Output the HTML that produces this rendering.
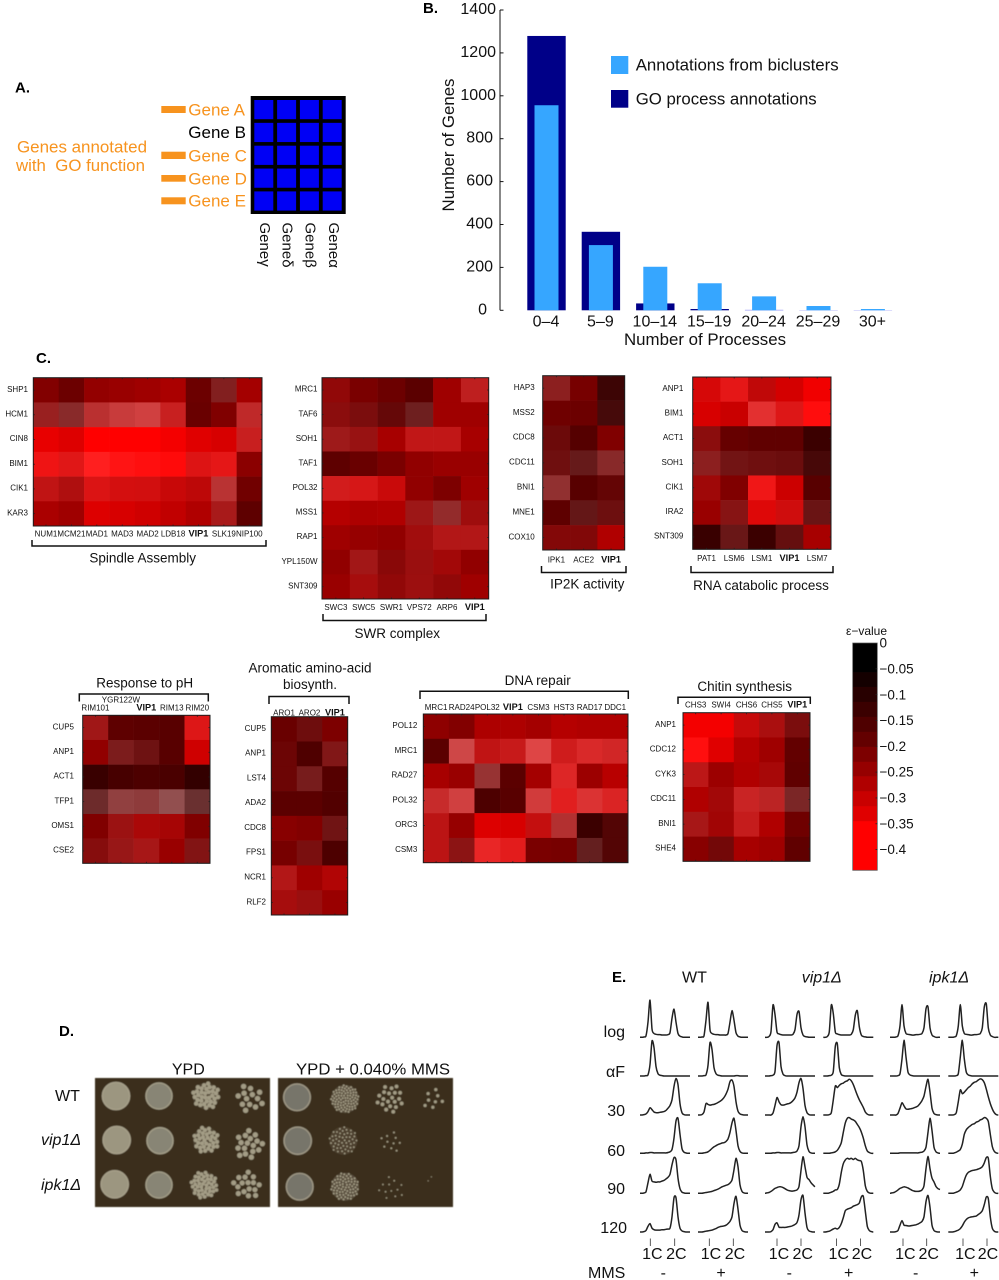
<!DOCTYPE html>
<html lang="en">
<head>
<meta charset="utf-8">
<title>Biclustering annotation figure</title>
<style>
html,body{margin:0;padding:0;background:#fff;}
svg{display:block;font-family:"Liberation Sans","DejaVu Sans",sans-serif;filter:blur(.3px);}
.panel-letter{font-weight:bold;font-size:15px;fill:#000;}
.gene-orange{font-size:17px;fill:#f7931e;}
.title13{font-size:13.5px;fill:#111;text-anchor:middle;}
.t16{font-size:16px;fill:#111;}
.i16{font-size:16px;font-style:italic;fill:#111;}
.mid{text-anchor:middle;}
.end{text-anchor:end;}
.bracket{fill:none;stroke:#111;stroke-width:1.5;}
</style>
</head>
<body>
<svg id="fig" width="999" height="1280" viewBox="0 0 999 1280" xmlns="http://www.w3.org/2000/svg">
<defs><filter id="soft" x="-5%" y="-5%" width="110%" height="110%"><feGaussianBlur stdDeviation="0.45"/></filter></defs>
<rect width="999" height="1280" fill="#fff"/>

<!-- Panel A -->
<g id="panelA">
<text class="panel-letter" x="15" y="92.5">A.</text>
<rect x="250.7" y="96" width="95" height="118" fill="#000"/>
<rect x="161.3" y="106" width="24.4" height="7" fill="#f7931e"/>
<rect x="161.3" y="151.7" width="24.4" height="7.3" fill="#f7931e"/>
<rect x="161.3" y="175" width="24.4" height="6.7" fill="#f7931e"/>
<rect x="161.3" y="197.3" width="24.4" height="7" fill="#f7931e"/>
<text class="gene-orange" x="188.3" y="115.7">Gene A</text>
<text class="gene-orange" x="188.3" y="138" style="fill:#000">Gene B</text>
<text class="gene-orange" x="188.3" y="161.7">Gene C</text>
<text class="gene-orange" x="188.3" y="184.3">Gene D</text>
<text class="gene-orange" x="188.3" y="206.7">Gene E</text>
<text class="gene-orange" x="17" y="152.7" textLength="130" lengthAdjust="spacingAndGlyphs">Genes annotated</text>
<text class="gene-orange" x="16" y="171" textLength="129" lengthAdjust="spacingAndGlyphs" xml:space="preserve">with  GO function</text>
<text font-size="15" fill="#111" transform="translate(260,222.5) rotate(90)">Geneγ</text>
<text font-size="15" fill="#111" transform="translate(282.7,222.5) rotate(90)">Geneδ</text>
<text font-size="15" fill="#111" transform="translate(305.7,222.5) rotate(90)">Geneβ</text>
<text font-size="15" fill="#111" transform="translate(329,222.5) rotate(90)">Geneα</text>
</g>

<!-- Panel B -->
<g id="panelB">
<text class="panel-letter" x="423" y="13">B.</text>
<line x1="500" y1="10" x2="500" y2="310.3" stroke="#111" stroke-width="1"/>
<text font-size="17" fill="#111" text-anchor="middle" textLength="133" lengthAdjust="spacingAndGlyphs" transform="translate(454,145) rotate(-90)">Number of Genes</text>
<text font-size="17" fill="#111" text-anchor="middle" x="705" y="345" textLength="162" lengthAdjust="spacingAndGlyphs">Number of Processes</text>
<rect x="611" y="56" width="17.3" height="18" fill="#36a6ff"/>
<rect x="611" y="90" width="17.3" height="17.7" fill="#000088"/>
<text font-size="17" fill="#111" x="635.7" y="70.7" textLength="203" lengthAdjust="spacingAndGlyphs">Annotations from biclusters</text>
<text font-size="17" fill="#111" x="635.7" y="104.3" textLength="181" lengthAdjust="spacingAndGlyphs">GO process annotations</text>
</g>

<!-- Panel C headers -->
<g id="panelC">
<text class="panel-letter" x="36" y="363">C.</text>
<path class="bracket" d="M32 540V546H266V540"/>
<text class="title13" x="142.7" y="562.7">Spindle Assembly</text>
<path class="bracket" d="M323 614V620.5H486V614"/>
<text class="title13" x="397.3" y="638">SWR complex</text>
<path class="bracket" d="M541.5 566V572.5H626V566"/>
<text class="title13" x="587.3" y="588.3">IP2K activity</text>
<path class="bracket" d="M691 566V572.5H833V566"/>
<text class="title13" x="761" y="590">RNA catabolic process</text>
<path class="bracket" d="M79.3 701.5V694H208.3V701.5"/>
<text class="title13" x="144.7" y="687.7">Response to pH</text>
<path class="bracket" d="M269 704V696.5H349V704"/>
<text class="title13" x="310" y="672.3">Aromatic amino-acid</text>
<text class="title13" x="310" y="689">biosynth.</text>
<path class="bracket" d="M420 699V691.3H628.3V699"/>
<text class="title13" x="537.7" y="685">DNA repair</text>
<path class="bracket" d="M678 704V697.2H810.3V704"/>
<text class="title13" x="744.7" y="691">Chitin synthesis</text>
<text font-size="12" fill="#111" text-anchor="middle" x="866.5" y="635">ε−value</text>
</g>

<!-- Panel D headers -->
<g id="panelD">
<text class="panel-letter" x="59" y="1036">D.</text>
<text class="t16 mid" x="188.3" y="1074.3">YPD</text>
<text class="t16" x="296" y="1074.3" textLength="154" lengthAdjust="spacingAndGlyphs">YPD + 0.040% MMS</text>
<text class="t16" x="55" y="1101">WT</text>
<text class="i16" x="41" y="1145">vip1Δ</text>
<text class="i16" x="41" y="1190">ipk1Δ</text>
</g>

<!-- Panel E headers -->
<g id="panelE">
<text class="panel-letter" x="612" y="982">E.</text>
<text class="t16" x="682" y="982.7">WT</text>
<text class="i16" x="801.7" y="982.7">vip1Δ</text>
<text class="i16" x="929" y="982.7">ipk1Δ</text>
<text class="t16 end" x="625" y="1037">log</text>
<text class="t16 end" x="625" y="1077">αF</text>
<text class="t16 end" x="625" y="1116">30</text>
<text class="t16 end" x="625" y="1156">60</text>
<text class="t16 end" x="625" y="1194">90</text>
<text class="t16 end" x="627" y="1233">120</text>
<text class="t16" x="588" y="1278">MMS</text>
<text class="t16 mid" x="663.3" y="1278">-</text>
<text class="t16 mid" x="721" y="1278">+</text>
<text class="t16 mid" x="789.3" y="1278">-</text>
<text class="t16 mid" x="848.7" y="1278">+</text>
<text class="t16 mid" x="915.7" y="1278">-</text>
<text class="t16 mid" x="974.3" y="1278">+</text>
</g>
</svg>

<script>
/* ---------- Panel B data ---------- */
const processBins = ["0–4","5–9","10–14","15–19","20–24","25–29","30+"];
const goAnnotationCounts = [1279,366,32,6,2,1,1];
const biclusterAnnotationCounts = [956,304,203,126,65,20,6];
const geneAxisTicks = [0,200,400,600,800,1000,1200,1400];

/* ---------- Panel A data ---------- */
const matrixRows = ["Gene A","Gene B","Gene C","Gene D","Gene E"];
const matrixColumns = ["Gene gamma","Gene delta","Gene beta","Gene alpha"];

/* ---------- Panel C data: epsilon values, and wash = paleness of each cell ---------- */
const spindleGenes = ["SHP1","HCM1","CIN8","BIM1","CIK1","KAR3"];
const spindleConditions = ["NUM1","MCM21","MAD1","MAD3","MAD2","LDB18","VIP1","SLK19","NIP100"];
const spindleValues = [
[-.23,-.19,-.26,-.27,-.28,-.30,-.19,-.20,-.29],
[-.245,-.20,-.30,-.325,-.34,-.34,-.185,-.225,-.315],
[-.41,-.39,-.45,-.45,-.45,-.43,-.395,-.38,-.34],
[-.42,-.39,-.45,-.45,-.45,-.45,-.385,-.40,-.245],
[-.33,-.30,-.38,-.37,-.365,-.35,-.33,-.295,-.20],
[-.30,-.28,-.39,-.38,-.365,-.34,-.31,-.28,-.165]];
const spindleWash = [
[0,0,0,0,0,0,0,.12,0],
[.125,.165,.19,.23,.25,.125,0,0,.16],
[0,0,0,0,0,0,0,0,.12],
[.08,.09,.12,.08,.06,.04,.08,.09,0],
[.08,.06,.08,.06,.06,.03,.03,.2,0],
[0,0,0,0,0,0,0,.1,0]];

const swrGenes = ["MRC1","TAF6","SOH1","TAF1","POL32","MSS1","RAP1","YPL150W","SNT309"];
const swrConditions = ["SWC3","SWC5","SWR1","VPS72","ARP6","VIP1"];
const swrValues = [
[-.25,-.215,-.19,-.16,-.28,-.32],
[-.235,-.205,-.17,-.16,-.28,-.28],
[-.26,-.255,-.295,-.33,-.33,-.295],
[-.165,-.185,-.215,-.255,-.27,-.27],
[-.36,-.37,-.35,-.255,-.22,-.28],
[-.32,-.305,-.31,-.26,-.22,-.27],
[-.28,-.265,-.255,-.275,-.30,-.30],
[-.255,-.27,-.235,-.26,-.28,-.255],
[-.27,-.285,-.25,-.265,-.25,-.28]];
const swrWash = [
[.03,0,0,0,0,.12],
[.05,.05,.03,.12,0,0],
[.1,.07,0,.09,.09,0],
[0,0,0,0,0,0],
[.11,.09,.04,0,0,0],
[0,0,0,.09,.17,.05],
[0,0,0,.05,.09,.09],
[0,.09,.03,.06,.03,0],
[0,.05,.03,.06,.03,0]];

const ip2kGenes = ["HAP3","MSS2","CDC8","CDC11","BNI1","MNE1","COX10"];
const ip2kConditions = ["IPK1","ACE2","VIP1"];
const ip2kValues = [
[-.22,-.21,-.10],
[-.195,-.19,-.11],
[-.18,-.15,-.225],
[-.18,-.15,-.20],
[-.21,-.155,-.17],
[-.165,-.15,-.175],
[-.225,-.22,-.31]];
const ip2kWash = [
[.12,0,.02],
[0,0,.04],
[.04,0,0],
[.06,.1,.16],
[.19,0,.02],
[0,.09,.06],
[.03,.03,0]];

const rnaGenes = ["ANP1","BIM1","ACT1","SOH1","CIK1","IRA2","SNT309"];
const rnaConditions = ["PAT1","LSM6","LSM1","VIP1","LSM7"];
const rnaValues = [
[-.375,-.40,-.335,-.375,-.425],
[-.38,-.355,-.39,-.385,-.45],
[-.235,-.18,-.17,-.17,-.105],
[-.22,-.18,-.18,-.175,-.115],
[-.275,-.225,-.42,-.36,-.155],
[-.27,-.22,-.39,-.36,-.165],
[-.10,-.16,-.105,-.16,-.295]];
const rnaWash = [
[.03,.09,.03,0,0],
[0,0,.19,.09,.05],
[.05,0,0,0,0],
[.12,.08,.06,.05,.03],
[.03,0,.09,0,0],
[0,.08,.03,.05,.08],
[0,.09,0,.06,0]];

const phGenes = ["CUP5","ANP1","ACT1","TFP1","OMS1","CSE2"];
const phConditions = ["RIM101","YGR122W","VIP1","RIM13","RIM20"];
const phValues = [
[-.265,-.165,-.16,-.155,-.385],
[-.255,-.19,-.175,-.155,-.365],
[-.10,-.125,-.135,-.13,-.09],
[-.14,-.19,-.19,-.17,-.125],
[-.225,-.26,-.295,-.29,-.225],
[-.225,-.25,-.28,-.27,-.21]];
const phWash = [
[.09,0,0,0,.09],
[0,.11,.07,0,0],
[0,0,0,0,0],
[.17,.25,.23,.31,.19],
[0,.07,.03,.02,0],
[.05,.09,.09,0,.08]];

const aromaticGenes = ["CUP5","ANP1","LST4","ADA2","CDC8","FPS1","NCR1","RLF2"];
const aromaticConditions = ["ARO1","ARO2","VIP1"];
const aromaticValues = [
[-.185,-.18,-.22],
[-.185,-.14,-.205],
[-.185,-.18,-.15],
[-.16,-.16,-.145],
[-.24,-.23,-.175],
[-.21,-.20,-.135],
[-.30,-.28,-.31],
[-.285,-.26,-.27]];
const aromaticWash = [
[0,.05,0],
[.02,0,.09],
[.02,.11,0],
[0,0,0],
[0,0,.08],
[0,.06,0],
[.09,0,.02],
[.05,.06,0]];

const dnaGenes = ["POL12","MRC1","RAD27","POL32","ORC3","CSM3"];
const dnaConditions = ["MRC1","RAD24","POL32","VIP1","CSM3","HST3","RAD17","DDC1"];
const dnaValues = [
[-.25,-.23,-.305,-.305,-.29,-.32,-.31,-.31],
[-.16,-.33,-.33,-.34,-.37,-.355,-.37,-.355],
[-.295,-.27,-.22,-.16,-.29,-.38,-.275,-.325],
[-.33,-.34,-.135,-.155,-.345,-.39,-.37,-.375],
[-.32,-.265,-.39,-.38,-.34,-.285,-.105,-.14],
[-.32,-.23,-.405,-.395,-.215,-.21,-.14,-.14]];
const dnaWash = [
[0,0,0,0,0,0,0,0],
[0,.28,.08,.1,.27,.11,.16,.15],
[0,0,.2,0,0,.15,0,0],
[.17,.25,0,0,.23,.12,.2,.14],
[.08,0,0,0,.06,.19,0,.02],
[.08,.08,.15,.11,0,0,.12,.02]];

const chitinGenes = ["ANP1","CDC12","CYK3","CDC11","BNI1","SHE4"];
const chitinConditions = ["CHS3","SWI4","CHS6","CHS5","VIP1"];
const chitinValues = [
[-.43,-.43,-.345,-.29,-.205],
[-.45,-.395,-.32,-.28,-.175],
[-.32,-.275,-.31,-.29,-.17],
[-.31,-.28,-.34,-.31,-.175],
[-.28,-.28,-.335,-.31,-.195],
[-.24,-.195,-.295,-.28,-.17]];
const chitinWash = [
[0,0,.04,.06,.05],
[.06,0,0,0,0],
[.09,0,0,.03,0],
[0,.03,.14,.14,.15],
[.09,.02,.11,0,0],
[0,.03,0,0,0]];

/* ---------- Colorbar data ---------- */
const colorbarTickValues = [0,-.05,-.1,-.15,-.2,-.25,-.3,-.35,-.4];
const colorbarTickLabels = ["0","−0.05","−0.1","−0.15","−0.2","−0.25","−0.3","−0.35","−0.4"];
const colorbarBandEdges = [0,-.0565,-.085,-.114,-.143,-.172,-.201,-.23,-.258,-.287,-.316,-.345,-.44];
const colorbarBandLevels = [0,-.035,-.07,-.105,-.14,-.175,-.22,-.265,-.31,-.355,-.395,-.45];

/* ---------- Panel E data: relative DNA histogram heights, 26 bins ---------- */
const flowLog = [
[0,0,1,4,40,98,22,10,8,7,7,6,6,6,7,12,50,74,40,10,3,1,0,0,0,0],
[0,0,1,4,45,92,20,10,8,7,7,6,6,6,6,10,40,70,45,12,3,1,0,0,0,0],
[0,0,2,15,85,60,14,9,7,6,6,6,6,6,8,20,60,68,25,6,2,1,0,0,0,0],
[0,0,2,15,85,62,14,9,7,6,6,6,6,6,8,20,58,70,28,6,2,1,0,0,0,0],
[0,0,0,1,4,30,86,30,10,8,7,6,6,7,7,8,10,25,75,80,25,6,2,0,0,0],
[0,0,0,1,4,30,86,30,10,8,7,6,6,7,7,8,10,25,80,88,25,6,2,0,0,0]];
const flowAlphaFactor = [
[0,0,0,1,3,30,92,75,25,6,2,1,0,0,0,0,0,0,0,0,0,0,0,0,0,0],
[0,0,0,1,3,28,88,70,22,6,2,1,0,0,0,0,0,0,0,1,1,0,0,0,0,0],
[0,0,0,1,2,12,80,88,25,5,1,0,0,0,0,0,0,0,0,0,0,0,0,0,0,0],
[0,0,0,1,2,12,78,85,22,4,1,0,0,0,0,0,0,0,0,0,0,0,0,0,0,0],
[0,0,0,0,1,6,45,94,50,10,3,1,0,0,0,0,0,0,0,0,0,0,0,0,0,0],
[0,0,0,0,1,6,50,94,45,10,3,1,0,0,0,0,0,0,0,0,0,0,0,0,0,0]];
const flow30 = [
[0,0,1,3,9,19,14,8,6,6,7,8,9,12,18,25,40,75,96,80,30,6,1,0,0,0],
[0,0,1,8,30,28,26,27,28,30,33,36,40,46,55,68,88,92,75,35,10,3,1,0,0,0],
[0,0,0,0,5,25,46,35,27,26,27,29,30,33,38,45,60,85,96,70,25,6,1,0,0,0],
[0,0,0,1,6,40,76,72,78,82,84,88,90,94,90,80,66,52,40,30,20,8,2,0,0,0],
[0,0,0,0,4,18,32,24,16,15,16,17,19,21,24,30,38,50,75,94,60,18,4,1,0,0],
[0,0,0,1,6,35,66,56,60,66,72,76,82,86,88,92,95,93,85,68,48,30,16,6,1,0]];
const flow60 = [
[0,0,0,1,1,2,2,1,1,1,1,1,1,1,2,4,10,40,85,92,50,12,3,1,0,0],
[0,0,0,1,2,4,8,13,17,20,23,25,27,28,31,38,55,80,92,60,20,5,1,0,0,0],
[0,0,0,0,1,1,2,2,1,1,1,1,1,1,2,3,6,20,70,96,70,22,5,1,0,0],
[0,0,0,0,1,2,4,8,16,28,55,80,92,94,90,88,84,76,68,56,40,20,6,2,0,0],
[0,0,0,0,0,1,1,1,1,1,1,1,1,1,1,2,3,6,16,55,92,60,16,4,1,0],
[0,0,0,1,3,6,10,24,50,62,68,72,76,78,82,84,88,90,94,92,84,50,18,5,1,0]];
const flow90 = [
[0,0,1,4,28,50,32,30,29,30,30,32,34,38,42,50,75,94,88,40,12,3,1,0,0,0],
[0,0,0,1,2,3,4,5,7,9,11,14,17,19,21,23,27,35,62,92,70,22,5,1,0,0],
[0,1,2,5,9,13,15,17,17,15,12,9,7,6,6,7,9,18,60,96,70,42,36,28,22,17],
[0,0,0,1,3,5,9,10,24,55,78,88,92,90,92,89,92,88,86,84,60,20,5,1,0,0],
[0,1,2,5,9,13,15,17,16,14,11,8,6,5,5,6,9,20,65,97,65,40,30,18,12,10],
[0,0,0,1,3,5,9,18,34,48,55,58,60,61,62,64,66,70,80,94,92,45,12,3,0,0]];
const flow120 = [
[0,0,1,4,15,22,10,6,5,5,5,6,6,7,8,10,40,90,90,40,10,3,1,0,0,0],
[0,0,0,1,2,3,4,5,7,9,12,14,15,16,18,22,28,40,75,94,60,18,4,1,0,0],
[0,0,0,1,6,20,24,13,12,12,12,13,14,15,17,20,25,45,85,96,50,12,3,1,0,0],
[0,0,1,2,5,8,10,8,12,22,38,56,60,62,64,68,70,72,76,92,94,55,15,4,1,0],
[0,0,0,1,4,18,30,18,17,16,16,17,18,19,21,24,28,40,80,96,65,18,4,1,0,0],
[0,0,0,1,3,5,9,16,26,33,37,39,40,41,42,46,50,56,72,92,88,40,10,2,0,0]];
const flowStrains = ["wt-untreated","wt-mms","vip1-untreated","vip1-mms","ipk1-untreated","ipk1-mms"];
const flowTimes = ["log","alpha-factor","30","60","90","120"];

/* ---------- Panel D data: colonies per spot (0 = confluent lawn) ---------- */
const plateColonyCounts = [
[0,0,34,13, 0,85,20,8],
[0,0,34,17, 0,48,10,0],
[0,0,44,16, 0,70,12,2]];
const plateColonySizes = [
[0,0,2.2,2.7, 0,1,1.9,1.6],
[0,0,2.1,2.7, 0,.9,1,0],
[0,0,1.9,2.6, 0,1,.85,.6]];

/* ---------- drawing helpers ---------- */
const NS = "http://www.w3.org/2000/svg";
const svg = document.getElementById("fig");
function mk(tag, parent, name, attrs) {
  const el = document.createElementNS(NS, tag);
  
  
  for (const k in attrs) el.setAttribute(k, attrs[k]);
  parent.appendChild(el);
  return el;
}
function slug(s){ return String(s).toLowerCase().replace(/[^a-z0-9]+/g,'-'); }

/* ---------- Panel A cells ---------- */
(function(){
  const g = document.getElementById("panelA");
  matrixRows.forEach((r,i)=>matrixColumns.forEach((c,j)=>{
    mk("rect",g,"matrix-cell-"+slug(r)+"-"+slug(c),{x:254.3+j*22.8,y:100+i*22.85,width:19,height:19.2,fill:"#0000f5"});
  }));
})();

/* ---------- Panel B ---------- */
(function(){
  const g = document.getElementById("panelB");
  const y0 = 310.3, yPerGene = 300.3/1400;
  const yScale = v => y0 - v*yPerGene;
  const xBand = i => 546.5 + i*54.4;
  processBins.forEach((b,i)=>{
    const cx = xBand(i);
    const go = goAnnotationCounts[i], bi = biclusterAnnotationCounts[i];
    mk("rect",g,"bar-go-"+slug(b),{x:cx-19.2,y:yScale(go),width:38.4,height:y0-yScale(go),fill:go<5?"#5a5aee":"#000088"});
    mk("rect",g,"bar-biclusters-"+slug(b),{x:cx-12,y:yScale(bi),width:24,height:y0-yScale(bi),fill:"#36a6ff"});
    const t = mk("text",g,"x-tick-label-"+slug(b),{x:cx-.5,y:326.7,"font-size":16,fill:"#111","text-anchor":"middle"});
    t.textContent = b;
  });
  geneAxisTicks.forEach(v=>{
    mk("line",g,"y-tick-"+v,{x1:500,x2:503.5,y1:yScale(v),y2:yScale(v),stroke:"#111","stroke-width":1});
    const t = mk("text",g,"y-tick-label-"+v,{x:v===0?487:(v>=1000?496:493),y:yScale(v)+4,"font-size":16,fill:"#111","text-anchor":"end"});
    t.textContent = v;
  });
})();

/* ---------- Panel C heatmaps ---------- */
function heatColor(v, w){
  const r = Math.min(255, Math.abs(v)/.45*255);
  const f = c => Math.round(c*(1-w)+255*w);
  return "rgb("+f(r)+","+f(0)+","+f(0)+")";
}
function drawHeatmap(name, genes, conds, vals, wash, box, labelBase, rowRight, raised){
  const g = mk("g",document.getElementById("panelC"),name+"-heatmap",{});
  const cw = (box.x1-box.x0)/conds.length, ch = (box.y1-box.y0)/genes.length;
  const xOf = j => box.x0 + j*cw, yOf = i => box.y0 + i*ch;
  genes.forEach((gene,i)=>{
    conds.forEach((cond,j)=>{
      mk("rect",g,name+"-cell-"+slug(gene)+"-"+slug(cond),{x:xOf(j),y:yOf(i),width:cw+.3,height:ch+.3,fill:heatColor(vals[i][j],wash[i][j])});
    });
    const t = mk("text",g,name+"-row-label-"+slug(gene),{x:rowRight,y:yOf(i)+ch/2+1.7,"font-size":8,fill:"#111","text-anchor":"end"});
    t.textContent = gene;
    mk("line",g,name+"-row-tick-left-"+i,{x1:box.x0,x2:box.x0+1.5,y1:yOf(i)+ch/2,y2:yOf(i)+ch/2,stroke:"#222","stroke-width":.8});
    mk("line",g,name+"-row-tick-right-"+i,{x1:box.x1-1.5,x2:box.x1,y1:yOf(i)+ch/2,y2:yOf(i)+ch/2,stroke:"#222","stroke-width":.8});
  });
  conds.forEach((cond,j)=>{
    const isVip = cond==="VIP1";
    const t = mk("text",g,name+"-column-label-"+slug(cond),{x:xOf(j)+cw/2,y:labelBase-(raised===j?8:0),"font-size":isVip?9.2:8,"font-weight":isVip?"bold":"normal",fill:"#111","text-anchor":"middle"});
    t.textContent = cond;
    mk("line",g,name+"-column-tick-top-"+j,{x1:xOf(j)+cw/2,x2:xOf(j)+cw/2,y1:box.y0,y2:box.y0+1.5,stroke:"#222","stroke-width":.8});
    mk("line",g,name+"-column-tick-bottom-"+j,{x1:xOf(j)+cw/2,x2:xOf(j)+cw/2,y1:box.y1-1.5,y2:box.y1,stroke:"#222","stroke-width":.8});
  });
  mk("rect",g,name+"-frame",{x:box.x0,y:box.y0,width:box.x1-box.x0,height:box.y1-box.y0,fill:"none",stroke:"#1c1c1c","stroke-width":1});
}
drawHeatmap("spindle",spindleGenes,spindleConditions,spindleValues,spindleWash,{x0:33.3,x1:262,y0:377.7,y1:526},536.7,28,-1);
drawHeatmap("swr",swrGenes,swrConditions,swrValues,swrWash,{x0:322,x1:488.7,y0:377.7,y1:599},610,317.5,-1);
drawHeatmap("ip2k",ip2kGenes,ip2kConditions,ip2kValues,ip2kWash,{x0:542.7,x1:624.7,y0:375.7,y1:550},562.7,534.7,-1);
drawHeatmap("rna",rnaGenes,rnaConditions,rnaValues,rnaWash,{x0:692.7,x1:831,y0:377,y1:549.3},561,683.3,-1);
drawHeatmap("ph",phGenes,phConditions,phValues,phWash,{x0:82.7,x1:210,y0:715.3,y1:863.3},710.7,74,1);
drawHeatmap("aromatic",aromaticGenes,aromaticConditions,aromaticValues,aromaticWash,{x0:271.3,x1:347.7,y0:716.7,y1:915},715.3,266,-1);
drawHeatmap("dna",dnaGenes,dnaConditions,dnaValues,dnaWash,{x0:423.3,x1:628,y0:714,y1:862.7},710,417.3,-1);
drawHeatmap("chitin",chitinGenes,chitinConditions,chitinValues,chitinWash,{x0:683,x1:810,y0:712.7,y1:861.3},707.7,676,-1);

/* ---------- Colorbar ---------- */
(function(){
  const g = mk("g",document.getElementById("panelC"),"colorbar",{});
  const yOf = v => 643 - v*516.5;
  colorbarBandLevels.forEach((lv,i)=>{
    const top = yOf(colorbarBandEdges[i]), bot = yOf(colorbarBandEdges[i+1]);
    mk("rect",g,"colorbar-band-"+i,{x:852.7,y:top,width:24.6,height:bot-top+.3,fill:heatColor(lv,0)});
  });
  mk("rect",g,"colorbar-frame",{x:852.7,y:yOf(0),width:24.6,height:yOf(colorbarBandEdges[colorbarBandEdges.length-1])-yOf(0),fill:"none",stroke:"#555","stroke-width":.7});
  colorbarTickValues.forEach((v,i)=>{
    if(i>0) mk("line",g,"colorbar-tick-"+i,{x1:875.5,x2:877.3,y1:yOf(v),y2:yOf(v),stroke:"#222","stroke-width":.8});
    const t = mk("text",g,"colorbar-tick-label-"+i,{x:879.5,y:yOf(v)+4.6,"font-size":13.5,fill:"#111"});
    t.textContent = colorbarTickLabels[i];
  });
})();

/* ---------- Panel D plates ---------- */
(function(){
  const g = mk("g",document.getElementById("panelD"),"plates",{filter:"url(#soft)"});
  mk("rect",g,"plate-ypd",{x:95,y:1078,width:175,height:129,fill:"#3b2f1d"});
  mk("rect",g,"plate-ypd-mms",{x:278,y:1078,width:175,height:129,fill:"#3a2e1c"});
  const centres = [
    [[116,1096],[159,1096],[206,1096],[249.3,1098.3],[297,1097.3],[345,1099],[390,1098.3],[433.3,1100]],
    [[116.7,1140],[160,1140.7],[206,1140],[249,1145],[297.7,1140.7],[343.3,1140.7],[391.7,1141.7],[433,1140]],
    [[114.7,1184.3],[159,1185],[204,1185],[247.3,1185],[299.7,1186.7],[345,1186.7],[391.7,1188.3],[430,1180]]];
  const radii = [
    [14.3,13.7,13.3,14, 14,14,14,11],
    [14.3,13.7,13,14.5, 14.3,14,11,0],
    [14.3,13.7,13.5,14, 14,14,13,4]];
  const labels = ["wt","vip1","ipk1"];
  plateColonyCounts.forEach((row,i)=>row.forEach((n,j)=>{
    const cx = centres[i][j][0], cy = centres[i][j][1], R = radii[i][j];
    const spot = labels[i]+"-"+(j<4?"ypd":"mms")+"-dilution-"+(j%4+1);
    if(R===0) return;
    if(n===0){
      mk("circle",g,"lawn-"+spot,{cx:cx,cy:cy,r:R,fill:j===0?"#9c9680":(j===1?"#888574":(j===4?"#77756b":"#858272"))});
      mk("circle",g,"lawn-rim-"+spot,{cx:cx,cy:cy,r:R-.7,fill:"none",stroke:"#aaa38c","stroke-width":1.3,opacity:.8});
    } else {
      const size = plateColonySizes[i][j];
      if(n>30) mk("circle",g,"spot-haze-"+spot,{cx:cx,cy:cy,r:R,fill:"#5c5240",opacity:n>=70?.9:.55});
      for(let k=0;k<n;k++){
        const rr = R*Math.sqrt((k+.5)/n), a = k*2.39996+i+j;
        mk("circle",g,"colony-"+spot+"-"+k,{cx:cx+rr*Math.cos(a),cy:cy+rr*Math.sin(a),r:size,fill:"#a39c85"});
      }
    }
  }));
})();

/* ---------- Panel E flow-cytometry traces ---------- */
(function(){
  const g = document.getElementById("panelE");
  const colStart = [640,698,765,823.3,890,948.3];
  const baselines = [1037.3,1076,1115,1153.3,1193.3,1232];
  const rows = [flowLog,flowAlphaFactor,flow30,flow60,flow90,flow120];
  const binWidth = 2, unit = .38;
  const smooth = pts => {
    let d = "M"+pts[0][0].toFixed(1)+" "+pts[0][1].toFixed(1);
    for(let i=0;i<pts.length-1;i++){
      const p0 = pts[Math.max(0,i-1)], p1 = pts[i], p2 = pts[i+1], p3 = pts[Math.min(pts.length-1,i+2)];
      const k = .13;
      d += "C"+(p1[0]+(p2[0]-p0[0])*k).toFixed(1)+" "+(p1[1]+(p2[1]-p0[1])*k).toFixed(1)+" "+
           (p2[0]-(p3[0]-p1[0])*k).toFixed(1)+" "+(p2[1]-(p3[1]-p1[1])*k).toFixed(1)+" "+
           p2[0].toFixed(1)+" "+p2[1].toFixed(1);
    }
    return d;
  };
  rows.forEach((row,r)=>row.forEach((curve,c)=>{
    const pts = curve.map((v,i)=>[colStart[c]+i*binWidth, baselines[r]-v*unit]);
    mk("path",g,"flow-trace-"+flowTimes[r]+"-"+flowStrains[c],{d:smooth(pts),fill:"none",stroke:"#222","stroke-width":1.5,"stroke-linejoin":"round"});
  }));
  const oneC = [10.3,11.3,12,13.3,13,14.7], twoC = [34.7,35.3,36,37.3,36.7,38.7];
  const oneCText = [652.3,711,779,838.7,905.3,965.3], twoCText = [676.3,735,802.7,862,928.7,988];
  colStart.forEach((x,c)=>{
    mk("line",g,"tick-1c-"+flowStrains[c],{x1:x+oneC[c],x2:x+oneC[c],y1:1238.5,y2:1246,stroke:"#333","stroke-width":.8});
    mk("line",g,"tick-2c-"+flowStrains[c],{x1:x+twoC[c],x2:x+twoC[c],y1:1238.5,y2:1246,stroke:"#333","stroke-width":.8});
    const a = mk("text",g,"label-1c-"+flowStrains[c],{x:oneCText[c],y:1259,"font-size":16,fill:"#111","text-anchor":"middle"});
    a.textContent = "1C";
    const b = mk("text",g,"label-2c-"+flowStrains[c],{x:twoCText[c],y:1259,"font-size":16,fill:"#111","text-anchor":"middle"});
    b.textContent = "2C";
  });
})();
</script>
</body>
</html>
